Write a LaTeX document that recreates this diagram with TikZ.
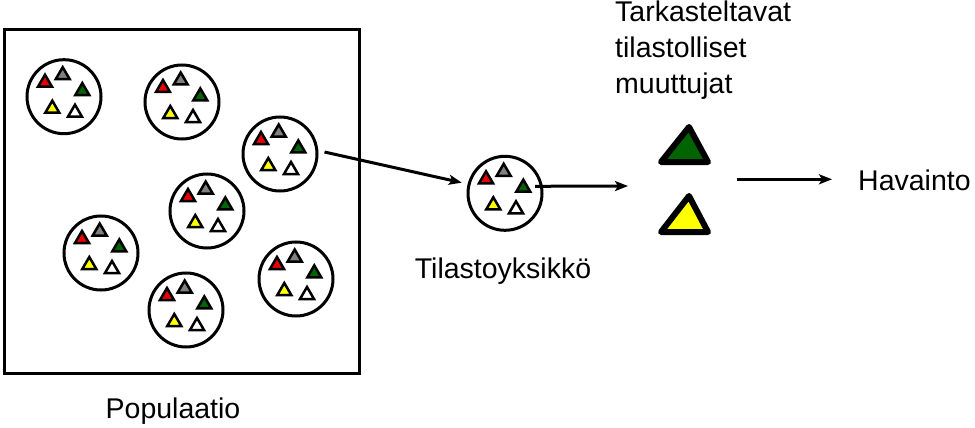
\documentclass[tikz,border=0pt]{standalone}
\usepackage{fontspec}
\setmainfont{Liberation Sans}
\usetikzlibrary{arrows.meta}
\definecolor{tred}{HTML}{E80000}
\definecolor{tgreen}{HTML}{006400}
\definecolor{tgray}{HTML}{808080}
\definecolor{tyellow}{HTML}{FFFF00}
\begin{document}
\begin{tikzpicture}[x=1pt,y=-1pt,
  lbl/.style={inner sep=0pt, font=\fontsize{28.5pt}{34pt}\selectfont},
  unitcirc/.style={circle, draw, line width=3pt, minimum size=74pt, inner sep=0pt},
  arr/.style={line width=3pt, -{Stealth[length=13pt, width=10pt, inset=3pt]}},
  bigtri/.style={draw=black, line width=6pt, line join=round},
  stri/.pic={\filldraw[fill=#1, draw=black, line width=2.5pt, line join=miter]
      (-7,0) -- (7,0) -- (0,-12) -- cycle;},
  unitpic/.pic={
    \node[unitcirc] (-c) at (0,0) {};
    \pic at (-19,-10) {stri=tred};
    \pic at (-1.3,-17.5) {stri=tgray};
    \pic at (18.3,-1.6) {stri=tgreen};
    \pic at (-11.7,16) {stri=tyellow};
    \pic at (11,20) {stri=white};
  }]
\useasboundingbox (0,0) rectangle (975,428);

% population box
\node[draw, line width=3pt, minimum width=355pt, minimum height=344pt, inner sep=0pt] (popbox) at (181.7,201.5) {};

% units in population
\pic (u1) at (64,96.7) {unitpic};
\pic (u2) at (182,102) {unitpic};
\pic (u3) at (280,154) {unitpic};
\pic (u4) at (207,211) {unitpic};
\pic (u5) at (101,253) {unitpic};
\pic (u6) at (296,279) {unitpic};
\pic (u7) at (186,310) {unitpic};

% statistical unit
\pic (tu) at (505,193.3) {unitpic};

% big triangles
\filldraw[bigtri, fill=tgreen] (661,162) -- (708,162) -- (689,127) -- cycle;
\filldraw[bigtri, fill=tyellow] (661,232) -- (708,232) -- (689,196) -- cycle;

% labels
\node[lbl, anchor=base] (pop) at (173,418) {Populaatio};
\node[lbl, anchor=base] (tyk) at (503,278) {Tilastoyksikkö};
\node[lbl, anchor=base west] (hav) at (858,190) {Havainto};
\node[lbl, anchor=base west] (m1) at (615,21.7) {Tarkasteltavat};
\node[lbl, anchor=base west] (m2) at (615,57.5) {tilastolliset};
\node[lbl, anchor=base west] (m3) at (615,93) {muuttujat};

% arrows
\coordinate (a2e) at (628,186);
\coordinate (a3s) at (737,179.3);
\draw[arr, shorten >=6pt] ([xshift=6pt,yshift=2pt]u3-c.east) -- (tu-c.166);
\draw[arr] ([xshift=30pt,yshift=7pt]tu-c.center) -- (a2e);
\draw[arr] (a3s) -- ([xshift=-26pt]hav.west |- a3s);
\end{tikzpicture}
\end{document}
